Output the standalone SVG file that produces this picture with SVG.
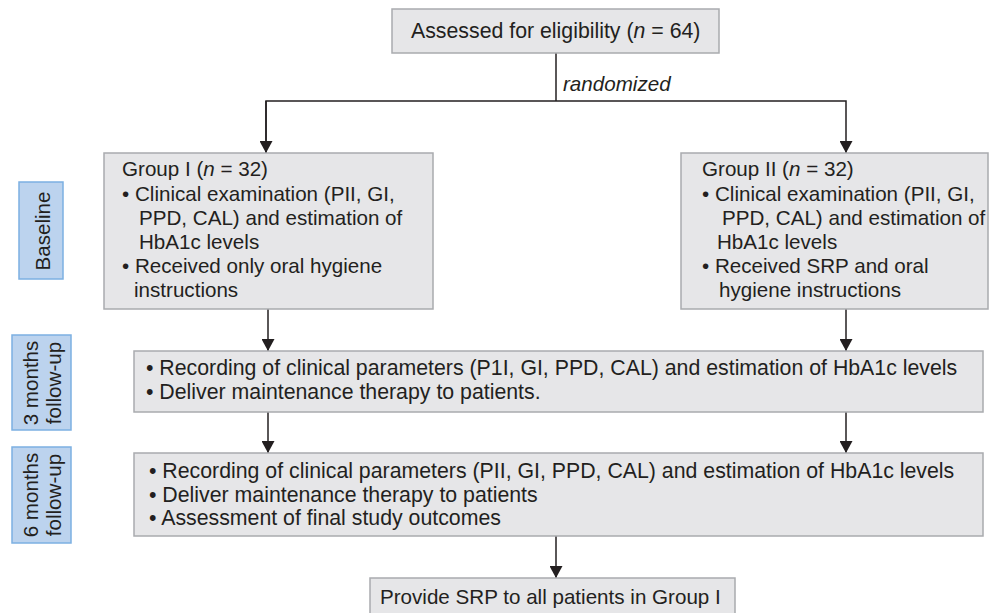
<svg xmlns="http://www.w3.org/2000/svg" width="1000" height="613" viewBox="0 0 1000 613">
<defs>
<style>
.box{fill:#e6e6e8;stroke:#a9abae;stroke-width:1.5}
.tag{fill:#bcd3ee;stroke:#7cb0e2;stroke-width:1.5}
text{font-family:"Liberation Sans",Arial,sans-serif;fill:#231f20;font-size:20.6px}
.big{font-size:21.3px}
.ln{fill:none;stroke:#231f20;stroke-width:1.5}
</style>
<marker id="arr" viewBox="0 0 12 13" refX="12" refY="6.5" markerWidth="12" markerHeight="13" orient="auto" markerUnits="userSpaceOnUse">
<path d="M0,0 L12,6.5 L0,13 z" fill="#231f20"/>
</marker>
</defs>
<rect width="1000" height="613" fill="#ffffff"/>

<g id="connectors">
<line class="ln" x1="556" y1="53" x2="556" y2="101"/>
<polyline class="ln" points="266,153 266,101 846,101 846,153" marker-end="url(#arr)"/>
<line class="ln" x1="266" y1="101" x2="266" y2="153" marker-end="url(#arr)"/>
<line class="ln" x1="268" y1="309" x2="268" y2="351" marker-end="url(#arr)"/>
<line class="ln" x1="846" y1="309" x2="846" y2="351" marker-end="url(#arr)"/>
<line class="ln" x1="268" y1="412" x2="268" y2="453" marker-end="url(#arr)"/>
<line class="ln" x1="846" y1="412" x2="846" y2="453" marker-end="url(#arr)"/>
<line class="ln" x1="556" y1="536" x2="556" y2="578" marker-end="url(#arr)"/>
<text x="563" y="91" font-style="italic">randomized</text>
</g>

<g id="assessed">
<rect class="box" x="392" y="9" width="327" height="44"/>
<text class="big" x="411" y="38">Assessed for eligibility (<tspan font-style="italic">n</tspan> = 64)</text>
</g>

<g id="group1">
<rect class="box" x="104" y="153" width="329" height="156"/>
<text x="122" y="176">Group I (<tspan font-style="italic">n</tspan> = 32)</text>
<text x="122" y="200.5">• Clinical examination (PII, GI,</text>
<text x="139" y="225">PPD, CAL) and estimation of</text>
<text x="139" y="249">HbA1c levels</text>
<text x="122" y="273">• Received only oral hygiene</text>
<text x="134" y="297">instructions</text>
</g>

<g id="group2">
<rect class="box" x="681" y="153" width="307" height="156"/>
<text x="702" y="176">Group II (<tspan font-style="italic">n</tspan> = 32)</text>
<text x="702" y="200.5">• Clinical examination (PII, GI,</text>
<text x="722" y="225">PPD, CAL) and estimation of</text>
<text x="717" y="249">HbA1c levels</text>
<text x="702" y="273">• Received SRP and oral</text>
<text x="719" y="297">hygiene instructions</text>
</g>

<g id="month3">
<rect class="box" x="134" y="351" width="849" height="61"/>
<text class="big" x="146" y="375">• Recording of clinical parameters (P1I, GI, PPD, CAL) and estimation of HbA1c levels</text>
<text class="big" x="146" y="399">• Deliver maintenance therapy to patients.</text>
</g>

<g id="month6">
<rect class="box" x="134" y="453" width="849" height="83"/>
<text class="big" x="149" y="478">• Recording of clinical parameters (PII, GI, PPD, CAL) and estimation of HbA1c levels</text>
<text class="big" x="149" y="502">• Deliver maintenance therapy to patients</text>
<text class="big" x="149" y="525">• Assessment of final study outcomes</text>
</g>

<g id="final">
<rect class="box" x="370" y="578" width="365" height="40"/>
<text x="380" y="604">Provide SRP to all patients in Group I</text>
</g>

<g id="label-baseline">
<rect class="tag" x="19" y="182" width="44" height="97"/>
<text transform="translate(50,231) rotate(-90)" text-anchor="middle">Baseline</text>
</g>

<g id="label-3m">
<rect class="tag" x="12" y="335" width="59" height="95"/>
<text transform="translate(38,383) rotate(-90)" text-anchor="middle">3 months</text>
<text transform="translate(61,383) rotate(-90)" text-anchor="middle">follow-up</text>
</g>

<g id="label-6m">
<rect class="tag" x="12" y="447" width="59" height="96"/>
<text transform="translate(38,495) rotate(-90)" text-anchor="middle">6 months</text>
<text transform="translate(61,495) rotate(-90)" text-anchor="middle">follow-up</text>
</g>
</svg>
